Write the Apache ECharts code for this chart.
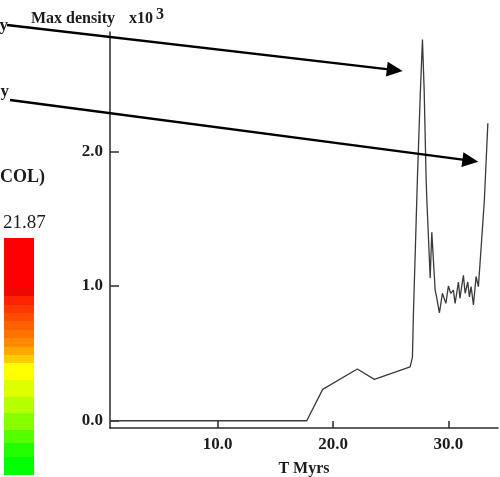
<!DOCTYPE html>
<html>
<head>
<meta charset="utf-8">
<script src="https://cdn.jsdelivr.net/npm/echarts@6/dist/echarts.min.js"></script>
<style>
  html, body { margin: 0; padding: 0; background: #fff; }
  #chart { width: 500px; height: 477px; }
</style>
</head>
<body>
<div id="chart"></div>
<script>
// ---- data ----
var timeMyr = [0.66, 17.72, 19.1, 22.1, 23.58, 26.68, 26.88, 26.96, 27.31, 27.55, 27.75, 27.9, 28.07, 28.13, 28.42, 28.56, 28.85, 28.95, 29.22, 29.48, 29.78, 30.0, 30.2, 30.43, 30.58, 30.87, 31.0, 31.3, 31.45, 31.68, 31.82, 31.97, 32.17, 32.4, 32.6, 32.84, 33.12, 33.42];
var maxDensity = [0, 0, 0.233, 0.384, 0.307, 0.40, 0.47, 0.77, 1.79, 2.4, 2.83, 2.45, 1.79, 1.64, 1.06, 1.40, 0.97, 0.93, 0.80, 0.946, 0.871, 1.0, 0.946, 0.97, 0.871, 1.03, 0.909, 1.08, 0.946, 1.03, 0.92, 0.995, 0.859, 1.07, 0.995, 1.29, 1.64, 2.208];
var xTicks = [10, 20, 30];
var yTicks = [0, 1, 2];
var colorbarMaxLabel = '21.87';
var colorbarColors = ['#ff0000', '#f00800', '#ff2200', '#ff3800', '#ff4c00', '#ff6000', '#ff7400', '#ff8a00', '#ffa800', '#ffcc00', '#ffff00', '#ddff00', '#b5ff00', '#88ff00', '#55ff00', '#22ff00', '#00ff00'];

var serif = '"Liberation Serif", "DejaVu Serif", serif';
var txt = '#1b1b22';

var seriesData = timeMyr.map(function (t, i) { return [t, maxDensity[i]]; });

// colour bar band boundaries (fractions of bar height, top to bottom)
var bandEdges = [0, 0.211, 0.246, 0.282, 0.317, 0.352, 0.387, 0.423, 0.458, 0.493, 0.528, 0.599, 0.669, 0.739, 0.810, 0.866, 0.923, 1];
var stops = [];
colorbarColors.forEach(function (c, i) {
  stops.push({ offset: bandEdges[i], color: c });
  stops.push({ offset: bandEdges[i + 1], color: c });
});

function arrow(x1, y1, x2, y2) {
  var dx = x2 - x1, dy = y2 - y1, L = Math.sqrt(dx * dx + dy * dy);
  var ux = dx / L, uy = dy / L, px = -uy, py = ux;
  var hl = 16, hw = 7.5;
  var bx = x2 - ux * hl, by = y2 - uy * hl;
  return [
    { type: 'line', shape: { x1: x1, y1: y1, x2: bx + ux * 2, y2: by + uy * 2 },
      style: { stroke: '#000', lineWidth: 2.4 }, z: 50 },
    { type: 'polygon', shape: { points: [[x2, y2], [bx + px * hw, by + py * hw], [bx - px * hw, by - py * hw]] },
      style: { fill: '#000' }, z: 50 }
  ];
}

var graphics = [
  { type: 'text', left: 31, top: 11, style: { text: 'Max density', font: 'bold 16px ' + serif, fill: txt }, z: 60 },
  { type: 'text', left: 129, top: 11, style: { text: 'x10', font: 'bold 16px ' + serif, fill: txt }, z: 60 },
  { type: 'text', left: 156, top: 7, style: { text: '3', font: 'bold 16px ' + serif, fill: txt }, z: 60 },
  { type: 'text', x: 8, y: 26, style: { text: 'y', font: 'bold 17px ' + serif, fill: txt, align: 'right', verticalAlign: 'middle' }, z: 60 },
  { type: 'text', x: 9, y: 92, style: { text: 'y', font: 'bold 17px ' + serif, fill: txt, align: 'right', verticalAlign: 'middle' }, z: 60 },
  { type: 'text', x: 0, y: 177, style: { text: 'COL)', font: 'bold 18px ' + serif, fill: txt, align: 'left', verticalAlign: 'middle' }, z: 60 },
  { type: 'text', x: 3, y: 223, style: { text: colorbarMaxLabel, font: '19px ' + serif, fill: txt, align: 'left', verticalAlign: 'middle' }, z: 60 },
  { type: 'rect', shape: { x: 4, y: 238, width: 30, height: 237 },
    style: { fill: new echarts.graphic.LinearGradient(0, 0, 0, 1, stops) }, z: 40 }
].concat(arrow(7, 25, 402.7, 71)).concat(arrow(10, 100, 478.3, 161.7));

var chart = echarts.init(document.getElementById('chart'), null, { renderer: 'canvas' });
chart.setOption({
  animation: false,
  backgroundColor: '#fff',
  grid: { left: 110, right: 2, top: 32, bottom: 49, containLabel: false, outerBoundsMode: 'none' },
  xAxis: {
    type: 'value', min: 0.66, max: 34.3,
    name: 'T Myrs', nameLocation: 'middle', nameGap: 33,
    nameTextStyle: { fontFamily: serif, fontWeight: 'bold', fontSize: 16, color: txt },
    axisLine: { show: true, onZero: false, lineStyle: { color: '#2a2a2a', width: 1.5 } },
    axisTick: { show: true, inside: true, length: 7, customValues: xTicks, lineStyle: { color: '#2a2a2a', width: 1.5 } },
    axisLabel: { show: true, customValues: xTicks, margin: 8, fontFamily: serif, fontWeight: 'bold', fontSize: 17, color: txt,
      formatter: function (v) { return v.toFixed(1); } },
    splitLine: { show: false }
  },
  yAxis: {
    type: 'value', min: -0.054, max: 2.886,
    axisLine: { show: true, onZero: false, lineStyle: { color: '#2a2a2a', width: 1.5 } },
    axisTick: { show: true, inside: true, length: 9, customValues: yTicks, lineStyle: { color: '#2a2a2a', width: 1.5 } },
    axisLabel: { show: true, customValues: yTicks, margin: 7, fontFamily: serif, fontWeight: 'bold', fontSize: 17, color: txt,
      formatter: function (v) { return v.toFixed(1); } },
    splitLine: { show: false }
  },
  series: [{
    type: 'line', data: seriesData, showSymbol: false, symbol: 'none',
    lineStyle: { color: '#3a3a3a', width: 1.3 }, clip: false
  }],
  graphic: graphics
});
</script>
</body>
</html>
